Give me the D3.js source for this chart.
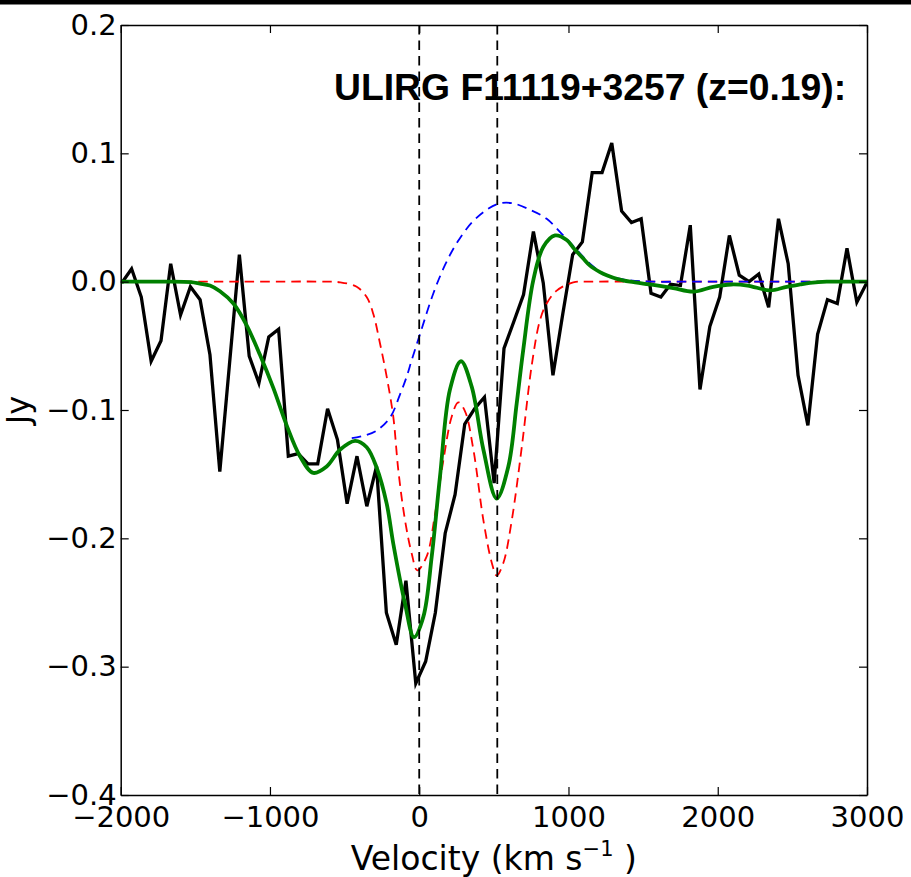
<!DOCTYPE html>
<html>
<head>
<meta charset="utf-8">
<script src="https://cdn.jsdelivr.net/npm/d3@7"></script>
<style>
  html, body { margin: 0; padding: 0; background: #ffffff; }
  svg { display: block; }
</style>
</head>
<body>
<script>
// ---------------- DATA ----------------
const titleText = "ULIRG F11119+3257 (z=0.19):";
const xLabelMain = "Velocity (km s";
const xLabelSup = "\u22121";
const xLabelEnd = " )";
const yLabelText = "Jy";

const xTicks = [-2000, -1000, 0, 1000, 2000, 3000];
const xTickLabels = ["\u22122000", "\u22121000", "0", "1000", "2000", "3000"];
const yTicks = [-0.4, -0.3, -0.2, -0.1, 0.0, 0.1, 0.2];
const yTickLabels = ["\u22120.4", "\u22120.3", "\u22120.2", "\u22120.1", "0.0", "0.1", "0.2"];

const markerVelocities = [0, 523];

// observed spectrum (black)
const obsVelocity = [
  -1993, -1927, -1862, -1796, -1730, -1665, -1599, -1533, -1468, -1402,
  -1336, -1271, -1205, -1139, -1074, -1008, -942, -877, -811, -745,
  -680, -614, -548, -483, -417, -351, -286, -220, -154, -89,
  -23, 43, 108, 174, 240, 305, 371, 437, 502, 568,
  634, 699, 765, 831, 896, 962, 1028, 1093, 1159, 1225,
  1290, 1356, 1422, 1487, 1553, 1619, 1684, 1750, 1816, 1881,
  1947, 2013, 2078, 2144, 2210, 2275, 2341, 2407, 2472, 2538,
  2604, 2669, 2735, 2801, 2866, 2932, 2998
];
const obsFlux = [
  -0.001, 0.010, -0.012, -0.062, -0.046, 0.014, -0.026, -0.004, -0.014, -0.057,
  -0.148, -0.064, 0.021, -0.058, -0.079, -0.043, -0.037, -0.136, -0.134, -0.142,
  -0.142, -0.099, -0.123, -0.173, -0.136, -0.175, -0.144, -0.258, -0.283, -0.233,
  -0.313, -0.296, -0.258, -0.196, -0.166, -0.111, -0.099, -0.090, -0.157, -0.052,
  -0.031, -0.010, 0.039, -0.001, -0.073, -0.025, 0.021, 0.031, 0.085, 0.085,
  0.108, 0.055, 0.046, 0.049, -0.009, -0.012, -0.002, -0.003, 0.044, -0.084,
  -0.035, -0.012, 0.036, 0.005, 0.000, 0.006, -0.020, 0.049, 0.014, -0.073,
  -0.112, -0.041, -0.014, -0.017, 0.026, -0.016, -0.001
];

// narrow components (red dashed)
const narrowVelocity = [
  -2000, -1200, -640, -530, -419, -352, -308, -263, -218, -174, -140, -95, -50, -13,
  50, 106, 162, 218, 262, 307, 363, 430, 486, 519, 564, 620, 687, 754,
  809, 854, 921, 1032, 1150, 2000, 3000
];
const narrowFlux = [
  0, 0, 0, -0.0005, -0.004, -0.012, -0.025, -0.048, -0.074, -0.105, -0.147, -0.186, -0.212, -0.225,
  -0.214, -0.181, -0.139, -0.105, -0.094, -0.101, -0.131, -0.186, -0.219, -0.229, -0.219, -0.186, -0.129, -0.065,
  -0.030, -0.017, -0.007, -0.0005, 0, 0, 0
];

// broad component (blue dashed)
const broadVelocity = [
  -452, -370, -285, -196, -129, -84, -50, 5, 95, 173, 251, 352, 452, 541, 630,
  742, 854, 965, 1055, 1144, 1256, 1412, 1568, 1800, 2400, 3000
];
const broadFlux = [
  -0.122, -0.120, -0.116, -0.106, -0.088, -0.074, -0.061, -0.041, -0.009, 0.013, 0.030, 0.046, 0.056, 0.061, 0.061,
  0.056, 0.049, 0.036, 0.025, 0.014, 0.005, 0.001, 0, 0, 0, 0
];

// total model (green)
const modelVelocity = [
  -2000, -1700, -1530, -1470, -1402, -1335, -1245, -1156, -1067, -977, -888, -799,
  -710, -620, -531, -430, -352, -285, -218, -174, -95, -35,
  28, 84, 139, 206, 280, 352, 430, 519, 597, 653,
  697, 764, 831, 910, 988, 1032, 1099, 1144, 1211, 1256,
  1330, 1412, 1568, 1702, 1836, 1970, 2090, 2200,
  2350, 2462, 2551, 2618, 2730, 2850, 3000
];
const modelFlux = [
  0, 0, -0.0004, -0.0015, -0.003, -0.0075, -0.017, -0.034, -0.057, -0.083, -0.112, -0.136,
  -0.149, -0.144, -0.131, -0.124, -0.129, -0.145, -0.173, -0.204, -0.251, -0.277,
  -0.261, -0.214, -0.152, -0.084, -0.062, -0.082, -0.131, -0.169, -0.144, -0.095,
  -0.053, 0.001, 0.027, 0.036, 0.0325, 0.0265, 0.018, 0.0125, 0.0075, 0.005,
  0.002, 0, -0.0025, -0.005, -0.0078, -0.004, -0.0022, -0.003,
  -0.0068, -0.004, -0.0022, -0.001, 0, 0, 0
];

// ---------------- LAYOUT ----------------
const W = 911, H = 877;
const plot = { left: 120.7, right: 867, top: 25, bottom: 795 };

const svg = d3.select("body").append("svg")
  .attr("width", W).attr("height", H)
  .attr("viewBox", `0 0 ${W} ${H}`);

svg.append("rect").attr("x", 0).attr("y", 0).attr("width", W).attr("height", H).attr("fill", "#ffffff");
svg.append("rect").attr("x", 0).attr("y", 0).attr("width", W).attr("height", 4.5).attr("fill", "#000000");

const x = d3.scaleLinear().domain([-2000, 3000]).range([plot.left, plot.right]);
const y = d3.scaleLinear().domain([-0.4, 0.2]).range([plot.bottom, plot.top]);

svg.append("defs").append("clipPath").attr("id", "clip")
  .append("rect")
  .attr("x", plot.left).attr("y", plot.top)
  .attr("width", plot.right - plot.left).attr("height", plot.bottom - plot.top);

const g = svg.append("g").attr("clip-path", "url(#clip)");

const zipPts = (vs, fs) => vs.map((v, i) => [v, fs[i]]);

const straight = d3.line().x(d => x(d[0])).y(d => y(d[1]));
const smooth = d3.line().x(d => x(d[0])).y(d => y(d[1])).curve(d3.curveCatmullRom.alpha(0.5));

// observed
g.append("path").datum(zipPts(obsVelocity, obsFlux))
  .attr("d", straight).attr("fill", "none")
  .attr("stroke", "#000000").attr("stroke-width", 3.3)
  .attr("stroke-linejoin", "miter").attr("stroke-miterlimit", 4);

// narrow (red dashed)
g.append("path").datum(zipPts(narrowVelocity, narrowFlux))
  .attr("d", smooth).attr("fill", "none")
  .attr("stroke", "#ff0000").attr("stroke-width", 1.8)
  .attr("stroke-dasharray", "9.5,6");

// broad (blue dashed)
g.append("path").datum(zipPts(broadVelocity, broadFlux))
  .attr("d", smooth).attr("fill", "none")
  .attr("stroke", "#0000ff").attr("stroke-width", 1.8)
  .attr("stroke-dasharray", "9.5,6");

// total model (green)
g.append("path").datum(zipPts(modelVelocity, modelFlux))
  .attr("d", smooth).attr("fill", "none")
  .attr("stroke", "#008000").attr("stroke-width", 3.8);

// vertical markers
g.selectAll("line.marker").data(markerVelocities).enter().append("line")
  .attr("class", "marker")
  .attr("x1", d => x(d)).attr("x2", d => x(d))
  .attr("y1", plot.top).attr("y2", plot.bottom)
  .attr("stroke", "#000000").attr("stroke-width", 1.8)
  .attr("stroke-dasharray", "9.5,6");

// ---------------- AXES ----------------
const tickFont = "'DejaVu Sans', sans-serif";
const tickLen = 8;

const xAxisB = d3.axisBottom(x).tickValues(xTicks)
  .tickFormat((d, i) => xTickLabels[i])
  .tickSizeInner(-tickLen).tickSizeOuter(0).tickPadding(11);
const xAxisT = d3.axisTop(x).tickValues(xTicks).tickFormat("")
  .tickSizeInner(-tickLen).tickSizeOuter(0);
const yAxisL = d3.axisLeft(y).tickValues(yTicks)
  .tickFormat((d, i) => yTickLabels[i])
  .tickSizeInner(-tickLen).tickSizeOuter(0).tickPadding(4);
const yAxisR = d3.axisRight(y).tickValues(yTicks).tickFormat("")
  .tickSizeInner(-tickLen).tickSizeOuter(0);

function styleAxis(sel) {
  sel.selectAll("path.domain").attr("stroke", "#000").attr("stroke-width", 1.5);
  sel.selectAll(".tick line").attr("stroke", "#000").attr("stroke-width", 1.2);
  sel.selectAll(".tick text").attr("fill", "#000")
    .style("font-family", tickFont).style("font-size", "29px");
}

svg.append("g").attr("transform", `translate(0,${plot.bottom})`).call(xAxisB).call(styleAxis);
svg.append("g").attr("transform", `translate(0,${plot.top})`).call(xAxisT).call(styleAxis);
svg.append("g").attr("transform", `translate(${plot.left},0)`).call(yAxisL).call(styleAxis);
svg.append("g").attr("transform", `translate(${plot.right},0)`).call(yAxisR).call(styleAxis);

// ---------------- TEXT ----------------
svg.append("text")
  .attr("x", 334).attr("y", 100)
  .style("font-family", "'Liberation Sans', Arial, sans-serif")
  .style("font-weight", "bold").style("font-size", "37.3px")
  .attr("fill", "#000")
  .text(titleText);

const xl = svg.append("text")
  .attr("x", (plot.left + plot.right) / 2).attr("y", 870)
  .attr("text-anchor", "middle")
  .style("font-family", tickFont).style("font-size", "33px")
  .attr("fill", "#000");
xl.append("tspan").text(xLabelMain);
xl.append("tspan").attr("dy", -14).style("font-size", "21px").text(xLabelSup);
xl.append("tspan").attr("dy", 14).text(xLabelEnd);

svg.append("text")
  .attr("transform", `translate(29,${(plot.top + plot.bottom) / 2}) rotate(-90)`)
  .attr("text-anchor", "middle")
  .style("font-family", tickFont).style("font-size", "32px")
  .attr("fill", "#000")
  .text(yLabelText);
</script>
</body>
</html>
